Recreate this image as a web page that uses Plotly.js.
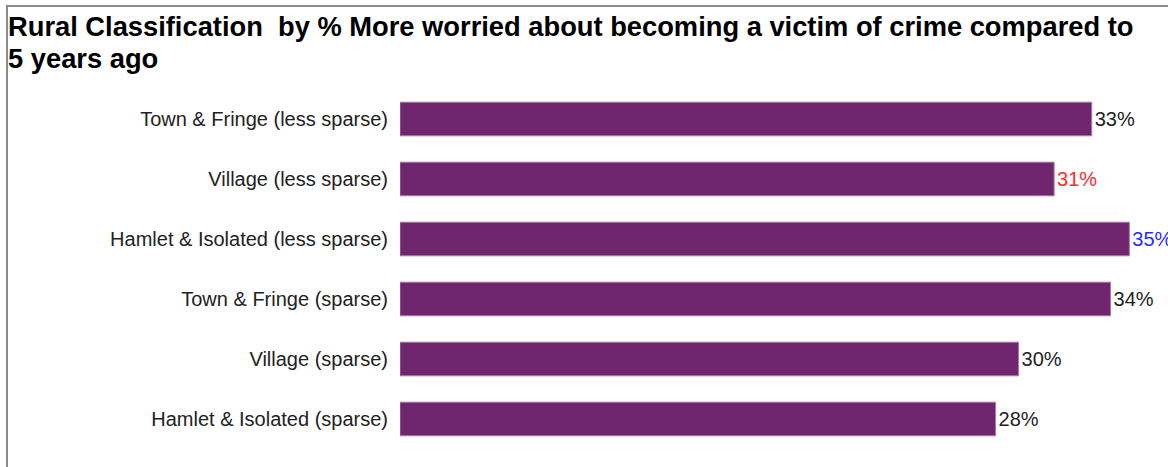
<!DOCTYPE html>
<html>
<head>
<meta charset="utf-8">
<script src="https://cdn.plot.ly/plotly-3.0.1.min.js"></script>
<style>
  html, body { margin: 0; padding: 0; background: #fff; }
  #wrap { position: relative; width: 1168px; height: 467px; overflow: hidden; }
  #chart { position: absolute; left: 0; top: 0; width: 1168px; height: 467px; }
  #frame { position: absolute; left: 6px; top: 5px; width: 1200px; height: 500px;
           border-top: 2px solid #8c8c8c; border-left: 2px solid #8c8c8c; pointer-events: none; }
</style>
</head>
<body>
<div id="wrap">
  <div id="chart"></div>
  <div id="frame"></div>
</div>
<script>
const categories = [
  "Town & Fringe (less sparse)",
  "Village (less sparse)",
  "Hamlet & Isolated (less sparse)",
  "Town & Fringe (sparse)",
  "Village (sparse)",
  "Hamlet & Isolated (sparse)"
];
const values = [0.331, 0.313, 0.349, 0.340, 0.296, 0.285];
const labelColors = ["#222222", "#ff2a2a", "#2a2aff", "#222222", "#222222", "#222222"];
const titleLines = [
  "Rural Classification  by % More worried about becoming a victim of crime compared to",
  "5 years ago"
];

const FONT = "Arial, Liberation Sans, sans-serif";

const trace = {
  type: "bar",
  orientation: "h",
  y: categories,
  x: values,
  marker: { color: "#70256f", line: { color: "#a77aa6", width: 1 } },
  text: values.map(v => Math.round(v * 100) + "%"),
  textposition: "outside",
  textfont: { family: FONT, size: 20, color: labelColors },
  cliponaxis: false,
  hoverinfo: "none"
};

const L = 400, W = 768, T = 88.5, H = 361;
const px2x = px => (px - L) / W;
const py2y = py => 1 - (py - T) / H;

const layout = {
  width: 1168,
  height: 467,
  margin: { l: L, r: 1168 - L - W, t: T, b: 467 - T - H },
  paper_bgcolor: "rgba(0,0,0,0)",
  plot_bgcolor: "rgba(0,0,0,0)",
  showlegend: false,
  bargap: 0.44,
  annotations: titleLines.map((t, i) => ({
    text: t,
    showarrow: false,
    xref: "paper", yref: "paper",
    x: px2x(6), xanchor: "left",
    y: py2y(i === 0 ? 26 : 58), yanchor: "middle",
    font: { family: FONT, size: 27.3, color: "#000", weight: "bold" }
  })),
  xaxis: {
    range: [0, 0.3675],
    visible: false,
    fixedrange: true
  },
  yaxis: {
    type: "category",
    autorange: "reversed",
    showgrid: false,
    zeroline: false,
    showline: false,
    ticks: "",
    ticklabelstandoff: 11,
    tickfont: { family: FONT, size: 20, color: "#222" },
    fixedrange: true
  }
};

Plotly.newPlot("chart", [trace], layout, { displayModeBar: false, staticPlot: true });
</script>
</body>
</html>
